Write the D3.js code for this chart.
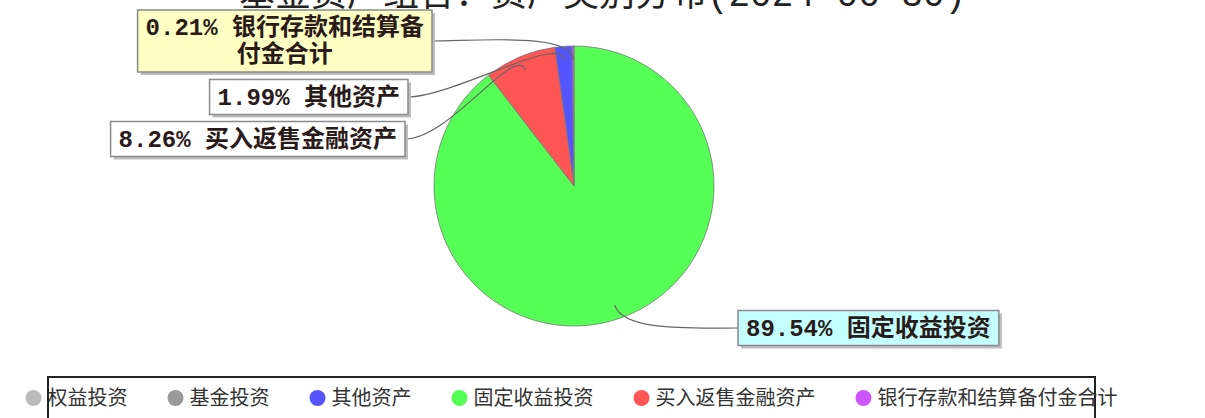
<!DOCTYPE html>
<html>
<head>
<meta charset="utf-8">
<script src="https://cdn.jsdelivr.net/npm/d3@7"></script>
<style>
  body { margin: 0; background: #fff; }
  svg { display: block; }
</style>
</head>
<body>
<div id="chart"></div>
<script>
// Data
const categories = ["权益投资", "基金投资", "其他资产", "固定收益投资", "买入返售金融资产", "银行存款和结算备付金合计"];
const values = [0, 0, 1.99, 89.54, 8.26, 0.21];
const colors = ["#bbbbbb", "#999999", "#5555ff", "#55ff55", "#ff5555", "#cc55ff"];
const titleText = "基金资产组合：资产类别分布";
const reportDate = "2024-06-30";

// Layout of the callout boxes (attach point on the box edge)
const labelLayout = {
    "银行存款和结算备付金合计": { x: 432, y: 41, side: "left", fill: "#ffffc4" },
    "其他资产": { x: 408, y: 97, side: "left", fill: "#ffffff" },
    "买入返售金融资产": { x: 405, y: 139, side: "left", fill: "#ffffff" },
    "固定收益投资": { x: 738, y: 328, side: "right", fill: "#c4ffff" }
};

const CONFIG = {
    width: 1205,
    height: 418,
    cx: 574,
    cy: 186,
    radius: 140,
    labelFont: "'Liberation Mono', 'Noto Sans CJK SC', monospace",
    cjkFont: "'Noto Sans CJK SC', sans-serif"
};

const data = categories.map((c, i) => ({ name: c, value: values[i], color: colors[i] }));

const svg = d3.select("#chart")
    .append("svg")
    .attr("width", CONFIG.width)
    .attr("height", CONFIG.height);

// Title (sits partly above the top edge, as in the picture)
svg.append("text")
    .attr("x", CONFIG.width / 2)
    .attr("y", 6)
    .attr("text-anchor", "middle")
    .attr("font-family", CONFIG.labelFont)
    .attr("font-size", 36)
    .attr("fill", "#222")
    .text(`${titleText}(${reportDate})`);

// Pie
const pie = d3.pie().value(d => d.value);
const arcs = pie(data.filter(d => d.value > 0));
const arc = d3.arc().innerRadius(0).outerRadius(CONFIG.radius);

const g = svg.append("g")
    .attr("transform", `translate(${CONFIG.cx},${CONFIG.cy})`);

g.selectAll("path.slice")
    .data(arcs)
    .enter()
    .append("path")
    .attr("class", "slice")
    .attr("d", arc)
    .attr("fill", d => d.data.color)
    .attr("stroke", "#777")
    .attr("stroke-width", 0.8);

// helper to measure text width
const measurer = svg.append("text")
    .attr("font-family", CONFIG.labelFont)
    .attr("font-size", 24)
    .attr("font-weight", "bold")
    .attr("visibility", "hidden");
function textWidth(s) {
    measurer.text(s);
    return measurer.node().getComputedTextLength();
}
function wrap(s, maxW) {
    const lines = [];
    let cur = "";
    for (const ch of s) {
        if (cur && textWidth(cur + ch) > maxW) {
            lines.push(cur);
            cur = ch;
        } else {
            cur += ch;
        }
    }
    if (cur) lines.push(cur);
    return lines;
}

const padX = 8, padY = 4, lineH = 27, maxTextW = 282;
const leaders = svg.append("g");
const boxes = svg.append("g");

arcs.forEach(d => {
    const lay = labelLayout[d.data.name];
    if (!lay) return;
    const mid = (d.startAngle + d.endAngle) / 2;
    const pt = r => [CONFIG.cx + r * Math.sin(mid), CONFIG.cy - r * Math.cos(mid)];

    const label = `${d3.format(".2f")(d.data.value)}% ${d.data.name}`;
    const lines = wrap(label, maxTextW);
    const w = d3.max(lines, textWidth) + padX * 2;
    const h = lines.length * lineH + padY * 2;
    const bx = lay.side === "left" ? lay.x - w : lay.x;
    const by = lay.y - h / 2;

    // leader line
    const p0 = pt(CONFIG.radius * 0.9);
    const p1 = pt(CONFIG.radius * 1.1);
    const dir = lay.side === "left" ? 1 : -1;
    const path = d3.path();
    path.moveTo(p0[0], p0[1]);
    path.bezierCurveTo(p1[0], p1[1], lay.x + dir * 45, lay.y, lay.x, lay.y);
    leaders.append("path")
        .attr("d", path.toString())
        .attr("fill", "none")
        .attr("stroke", "#666")
        .attr("stroke-width", 1.2);

    // box with shadow
    boxes.append("rect")
        .attr("x", bx + 3).attr("y", by + 3)
        .attr("width", w).attr("height", h)
        .attr("fill", "#bdbdbd");
    boxes.append("rect")
        .attr("x", bx).attr("y", by)
        .attr("width", w).attr("height", h)
        .attr("fill", lay.fill)
        .attr("stroke", "#8a8a8a")
        .attr("stroke-width", 1.5);
    const t = boxes.append("text")
        .attr("font-family", CONFIG.labelFont)
        .attr("font-size", 24)
        .attr("font-weight", "bold")
        .attr("fill", "#2a1a1a")
        .attr("text-anchor", "middle");
    lines.forEach((ln, i) => {
        t.append("tspan")
            .attr("x", bx + w / 2)
            .attr("y", by + padY + lineH * i + 21)
            .text(ln);
    });
});

// Legend
const legend = svg.append("g");
legend.append("rect")
    .attr("x", 48).attr("y", 377)
    .attr("width", 1047).attr("height", 60)
    .attr("fill", "#fff")
    .attr("stroke", "#222")
    .attr("stroke-width", 2);

const legendFont = 20, markerR = 8, gapAfterMarker = 6, itemGap = 40;
const lm = svg.append("text")
    .attr("font-family", CONFIG.cjkFont)
    .attr("font-size", legendFont)
    .attr("visibility", "hidden");
const itemWidths = data.map(d => {
    lm.text(d.name);
    return markerR * 2 + gapAfterMarker + lm.node().getComputedTextLength();
});
lm.remove();
const totalW = d3.sum(itemWidths) + itemGap * (data.length - 1);
let lx = 48 + 1047 / 2 - totalW / 2;
const ly = 398;
data.forEach((d, i) => {
    legend.append("circle")
        .attr("cx", lx + markerR)
        .attr("cy", ly)
        .attr("r", markerR)
        .attr("fill", d.color);
    legend.append("text")
        .attr("x", lx + markerR * 2 + gapAfterMarker)
        .attr("y", ly + 7)
        .attr("font-family", CONFIG.cjkFont)
        .attr("font-size", legendFont)
        .attr("fill", "#333")
        .text(d.name);
    lx += itemWidths[i] + itemGap;
});
measurer.remove();
</script>
</body>
</html>
